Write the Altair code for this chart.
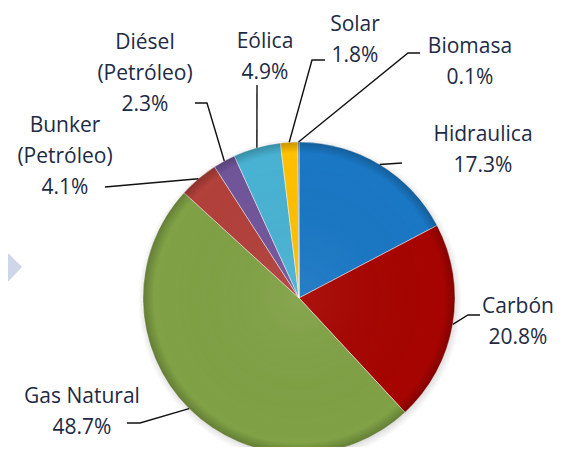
import altair as alt
import pandas as pd
import numpy as np

# ---- data ----
keys = ["Hidraulica", "Carbon", "GasNatural", "Bunker", "Diesel", "Eolica", "Solar", "Biomasa"]
names = ["Hidraulica", "Carbón", "Gas Natural", "Bunker\n(Petróleo)", "Diésel\n(Petróleo)",
         "Eólica", "Solar", "Biomasa"]
shares = [17.3, 20.8, 48.7, 4.1, 2.3, 4.9, 1.8, 0.1]
colors = ["#1A77C4", "#A60400", "#80A145", "#B2403B", "#71559A", "#49B2D3", "#FFC000", "#2B4E7A"]

# ---- layout (chart pixel coordinates) ----
W, H = 549, 439
CX, CY, R = 291, 290, 156
label_x = [475, 510, 74, 57, 137, 257, 347, 462]
label_y = [127, 299, 389, 118, 35, 34, 16.5, 39]   # centre of first text line
elbows = [
    [(394, 155)],
    [(460, 307), (472, 307)],
    [(132, 415), (119, 415)],
    [(97, 179)],
    [(199, 95), (187, 95)],
    [(249, 77)],
    [(304, 52), (317, 52)],
    [(400, 45), (412, 45)],
]

pie_df = pd.DataFrame({"key": keys, "share": shares, "order": list(range(len(keys)))})

# leader lines: start on the pie rim at each slice's mid-angle
cum = np.cumsum([0] + shares[:-1])
mid = (cum + np.array(shares) / 2) / 100 * 2 * np.pi
rows = []
for i, k in enumerate(keys):
    sx = CX + R * np.sin(mid[i])
    sy = CY - R * np.cos(mid[i])
    pts = [(sx, sy)] + elbows[i]
    for j, (px, py) in enumerate(pts):
        rows.append({"key": k, "seq": j, "x": px, "y": py})
line_df = pd.DataFrame(rows)

label_df = pd.DataFrame({
    "key": keys,
    "text": [f"{n}\n{s:.1f}%" for n, s in zip(names, shares)],
    "x": label_x,
    "y": label_y,
})

deco_df = pd.DataFrame({"x": [-8, 14], "y": [237, 259], "y2": [282, 259]})

xs = alt.Scale(domain=[0, W], nice=False, zero=False)
ys = alt.Scale(domain=[0, H], nice=False, zero=False, reverse=True)

deco = alt.Chart(deco_df).mark_area(color="#CED6E7").encode(
    x=alt.X("x:Q", scale=xs, axis=None),
    y=alt.Y("y:Q", scale=ys, axis=None),
    y2="y2:Q",
)

shadow = alt.Chart(pd.DataFrame({"a": [1]})).mark_arc(
    radius=162, theta=0, theta2=2 * np.pi,
    fill={"gradient": "radial", "x1": 0.5, "y1": 0.5, "r1": 0, "x2": 0.5, "y2": 0.5, "r2": 0.5,
          "stops": [{"offset": 0.9, "color": "rgba(0,0,0,0.25)"},
                    {"offset": 1.0, "color": "rgba(0,0,0,0)"}]},
).encode(x=alt.value(CX + 1), y=alt.value(CY + 2))

pie = alt.Chart(pie_df).mark_arc(radius=R, stroke="#ffffff", strokeWidth=0.8, strokeOpacity=0.6).encode(
    theta=alt.Theta("share:Q", stack=True),
    order=alt.Order("order:Q"),
    color=alt.Color("key:N", scale=alt.Scale(domain=keys, range=colors), legend=None),
    x=alt.value(CX),
    y=alt.value(CY),
)

bevel = alt.Chart(pd.DataFrame({"a": [1]})).mark_arc(
    radius=R, theta=0, theta2=2 * np.pi,
    fill={"gradient": "radial", "x1": 0.5, "y1": 0.5, "r1": 0, "x2": 0.5, "y2": 0.5, "r2": 0.5,
          "stops": [{"offset": 0.0, "color": "rgba(255,255,255,0.06)"},
                    {"offset": 0.93, "color": "rgba(0,0,0,0)"},
                    {"offset": 1.0, "color": "rgba(0,0,0,0.22)"}]},
).encode(x=alt.value(CX), y=alt.value(CY))

leaders = alt.Chart(line_df).mark_line(color="#111111", strokeWidth=1.4).encode(
    x=alt.X("x:Q", scale=xs, axis=None),
    y=alt.Y("y:Q", scale=ys, axis=None),
    detail="key:N",
    order="seq:Q",
)

labels = alt.Chart(label_df).mark_text(
    font="Open Sans", fontSize=21, color="#1E2A44", lineBreak="\n", lineHeight=31,
    align="center", baseline="middle",
).encode(
    x=alt.X("x:Q", scale=xs, axis=None),
    y=alt.Y("y:Q", scale=ys, axis=None),
    text="text:N",
)

chart = alt.layer(deco, shadow, pie, bevel, leaders, labels).properties(
    width=W, height=H, padding=0, autosize=alt.AutoSizeParams(type="none")
).configure_view(stroke=None)

chart.save("out.html", embed_options={"renderer": "svg", "actions": False})
